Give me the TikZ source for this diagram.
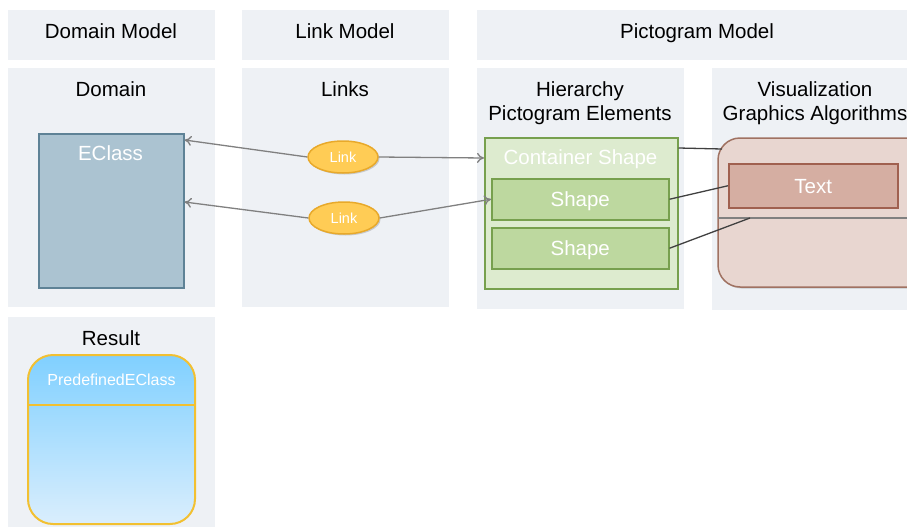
\documentclass[tikz,border=0pt]{standalone}
\usepackage{fontspec}
\setmainfont{Liberation Sans}
\usetikzlibrary{shapes.geometric,shadows,arrows.meta}
\definecolor{panelbg}{HTML}{EEF1F5}
\definecolor{eclassfill}{HTML}{ABC3D1}
\definecolor{eclassdraw}{HTML}{5E8296}
\definecolor{linkfill}{HTML}{FFCC55}
\definecolor{linkdraw}{HTML}{E8A92A}
\definecolor{contfill}{HTML}{DDEBCF}
\definecolor{contdraw}{HTML}{77A04E}
\definecolor{shapefill}{HTML}{BDD89F}
\definecolor{visfill}{HTML}{E8D6D0}
\definecolor{visdraw}{HTML}{A07262}
\definecolor{textfill}{HTML}{D5AEA2}
\definecolor{textdraw}{HTML}{A0604F}
\definecolor{restop}{HTML}{80D0FF}
\definecolor{resbot}{HTML}{DAEEFD}
\definecolor{resdraw}{HTML}{F2C031}
\definecolor{conn}{HTML}{808080}
\definecolor{dark}{HTML}{404040}
\tikzset{
  panel/.style={fill=panelbg, draw=none},
  ptitle/.style={font=\fontsize{20.5}{24}\selectfont, text=black, align=center},
  stitle/.style={ptitle, text height=14.7pt, text depth=0pt},
  wtext/.style={text=white, font=\fontsize{20.5}{24}\selectfont, text height=14.7pt, text depth=0pt},
  boxshadow/.style={drop shadow={shadow xshift=1.5pt, shadow yshift=-1.5pt, opacity=0.35, fill=gray}},
  linkell/.style={ellipse, fill=linkfill, draw=linkdraw, line width=1.5pt, minimum width=70pt, minimum height=32pt, inner sep=0pt, text=white, font=\fontsize{14.5}{16}\selectfont, text height=10.4pt, text depth=0pt, boxshadow},
  arr/.style={draw=conn, line width=1.3pt, -{To[length=7pt,width=10pt]}},
  plain/.style={draw=dark, line width=1.3pt},
}
\begin{document}
\begin{tikzpicture}[x=1pt,y=-1pt]
\clip (0,0) rectangle (907,527);
\fill[white] (0,0) rectangle (907,527);
% header panels
\node[panel, minimum width=207pt, minimum height=50pt, anchor=north west] (hdom) at (8,10) {};
\node[stitle] at (111,31) {Domain Model};
\node[panel, minimum width=207pt, minimum height=50pt, anchor=north west] (hlink) at (242,10) {};
\node[stitle] at (345,31) {Link Model};
\node[panel, minimum width=440pt, minimum height=50pt, anchor=north west] (hpict) at (477,10) {};
\node[stitle] at (697,31) {Pictogram Model};
% column panels
\node[panel, minimum width=207pt, minimum height=239pt, anchor=north west] (pdom) at (8,68) {};
\node[stitle] at (111,89) {Domain};
\node[panel, minimum width=207pt, minimum height=239pt, anchor=north west] (plink) at (242,68) {};
\node[stitle] at (345,89) {Links};
\node[panel, minimum width=207pt, minimum height=241pt, anchor=north west] (phier) at (477,68) {};
\node[ptitle] at (580,103) {Hierarchy\\Pictogram Elements};
\node[panel, minimum width=210pt, minimum height=242pt, anchor=north west] (pvis) at (712,68) {};
\node[ptitle] at (815,103) {Visualization\\Graphics Algorithms};
\node[panel, minimum width=207pt, minimum height=215pt, anchor=north west] (pres) at (8,317) {};
\node[stitle] at (111,338) {Result};
% EClass
\node[fill=eclassfill, draw=eclassdraw, line width=1.5pt, minimum width=145pt, minimum height=154pt, anchor=north west, boxshadow] (eclass) at (38,133) {};
\node[wtext] at (110.5,153) {EClass};
% Links
\node[linkell] (link1) at (343,157) {Link};
\node[linkell] (link2) at (344,218) {Link};
% Container
\node[fill=contfill, draw=contdraw, line width=1.5pt, minimum width=193pt, minimum height=151pt, anchor=north west, boxshadow] (cont) at (484,137) {};
\node[wtext] at (580.5,157) {Container Shape};
\node[fill=shapefill, draw=contdraw, line width=1.5pt, minimum width=177pt, minimum height=41pt, anchor=north west, boxshadow, wtext] (shape1) at (491,178) {Shape};
\node[fill=shapefill, draw=contdraw, line width=1.5pt, minimum width=177pt, minimum height=41pt, anchor=north west, boxshadow, wtext] (shape2) at (491,227) {Shape};
% Visualization
\draw[fill=visfill, draw=visdraw, line width=1.5pt, rounded corners=22pt, boxshadow] (718,138) rectangle (950,287);
\coordinate (vistop) at (722,149);
\coordinate (sepl) at (718,218);
\coordinate (sepr) at (907,218);
\draw[draw=conn, line width=1.3pt] (sepl) -- (sepr);
\node[fill=textfill, draw=textdraw, line width=1.5pt, minimum width=169pt, minimum height=44pt, anchor=north west, boxshadow, wtext] (textbox) at (728,163) {Text};
\coordinate (sepmid) at (750,218);
% Result
\shade[top color=restop, bottom color=resbot, rounded corners=25pt] (28,355) rectangle (195,524);
\draw[draw=resdraw, line width=2pt, rounded corners=25pt] (28,355) rectangle (195,524);
\coordinate (resl) at (28,405);
\coordinate (resr) at (195,405);
\draw[draw=resdraw, line width=2pt] (resl) -- (resr);
\node[text=white, font=\fontsize{16}{18}\selectfont, text height=11.5pt, text depth=0pt] (pred) at (111.5,380) {PredefinedEClass};
% connectors
\draw[arr] (link1.west) -- (eclass.north east |- 0,140);
\draw[arr] (link2.west) -- (eclass.north east |- 0,202);
\draw[arr] (link1.east) -- (cont.north west |- 0,158);
\draw[arr] (link2.east) -- (shape1.west);
\draw[plain] (cont.north east |- 0,148) -- (vistop);
\draw[plain] (shape1.east) -- (textbox.west);
\draw[plain] (shape2.east) -- (sepmid);
\end{tikzpicture}
\end{document}
